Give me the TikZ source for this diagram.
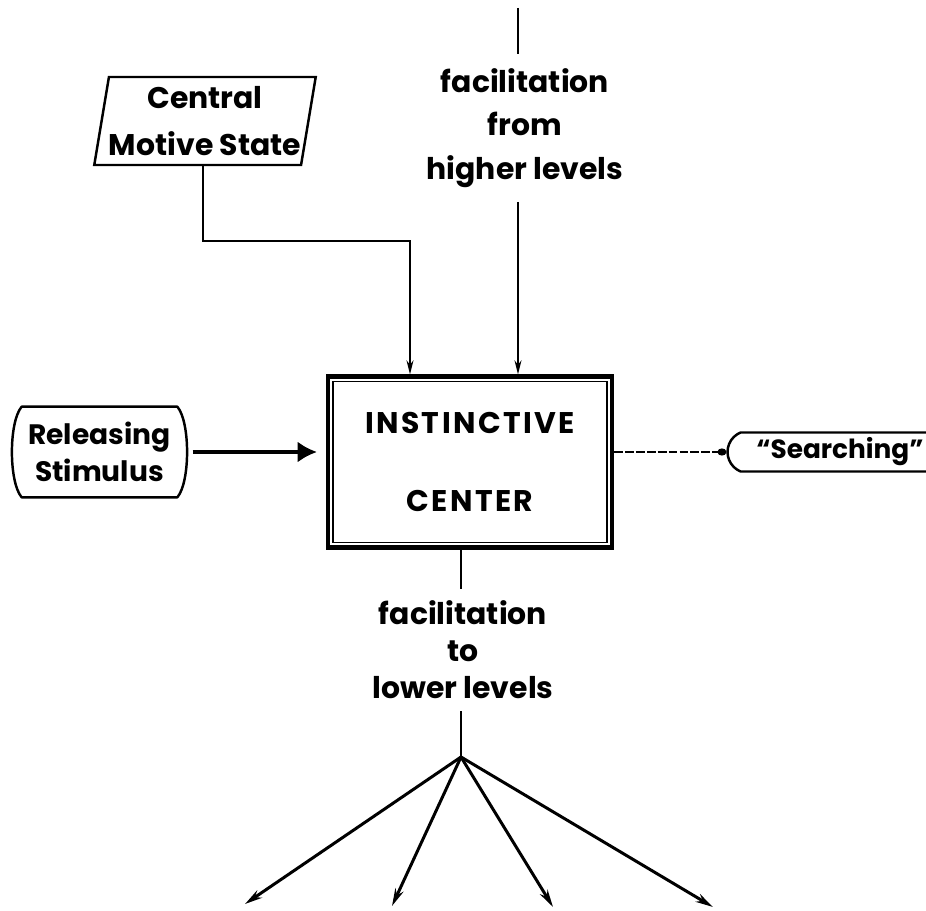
\documentclass[tikz,border=0pt]{standalone}
\usepackage{fontspec}
\setmainfont{Poppins}
\usetikzlibrary{arrows.meta,shapes.geometric,shapes.misc}

\begin{document}
\begin{tikzpicture}[x=0.02cm, y=-0.02cm,
    every node/.style={font=\fontsize{17}{22}\selectfont\bfseries, align=center, inner sep=0pt},
    thinline/.style={line width=0.9pt},
    boxline/.style={line width=1.4pt},
    forkline/.style={line width=1.7pt, -{Stealth[length=10pt, width=5pt]}},
    inhead/.style={-{Stealth[length=8pt, width=4pt]}}]
    \useasboundingbox (0,0) rectangle (926,911);
    \clip (0,0) rectangle (926,911);
    \node [draw, boxline, trapezium, trapezium left angle=78, trapezium right angle=102, trapezium stretches=true, minimum width=4.4cm, minimum height=1.76cm] (cms) at (205,121) {Central\\[4.6pt]Motive State};
    \node [minimum width=3.5cm, minimum height=1.8cm, font=\fontsize{16}{21}\selectfont\bfseries] (rel) at (99.5,452) {Releasing\\[0pt]Stimulus};
    \draw [boxline, line join=round] ([shift={(10,0)}]rel.north west) -- ([shift={(-10,0)}]rel.north east)
        .. controls ([shift={(3,-30)}]rel.east) and ([shift={(3,30)}]rel.east) .. ([shift={(-10,0)}]rel.south east)
        -- ([shift={(10,0)}]rel.south west)
        .. controls ([shift={(-3,30)}]rel.west) and ([shift={(-3,-30)}]rel.west) .. cycle;
    \node [draw, line width=2.5pt, minimum width=5.68cm, minimum height=3.42cm] (ctr) at (470,462) {\addfontfeature{LetterSpace=8}INSTINCTIVE\\[22pt]\addfontfeature{LetterSpace=8}CENTER};
    \draw [thinline] ([shift={(7,7)}]ctr.north west) rectangle ([shift={(-7,-7)}]ctr.south east);
    \node [draw, boxline, rounded rectangle, rounded rectangle arc length=135, minimum width=4.5cm, minimum height=0.78cm, font=\fontsize{15}{18}\selectfont\bfseries] (srch) at (840,452) {``Searching''};
    \node (up) at (525,128) {facilitation\\[2.7pt]from\\[2.7pt]higher levels};
    \node (down) at (463,650) {facilitation\\[-1pt]to\\[-1pt]lower levels};
    \coordinate (top) at (518,8);
    \coordinate (fork) at (461,757);
    \coordinate (l1) at (245,904);
    \coordinate (l2) at (392,906);
    \coordinate (l3) at (553,907);
    \coordinate (l4) at (713,907);
    \draw [thinline] (top) -- ([shift={(0,-14)}]top |- up.north);
    \draw [thinline, inhead] ([shift={(0,14)}]top |- up.south) -- (top |- ctr.north);
    \draw [thinline, inhead] ([shift={(-2,0)}]cms.south) -- ++(0,75) -| ([shift={(-60,0)}]ctr.north);
    \draw [line width=2.3pt, -{Latex[length=11pt, width=12pt]}, shorten <=3pt, shorten >=5pt] (rel.east) -- (rel.east -| ctr.west);
    \draw [line width=1.7pt, dash pattern=on 5pt off 1.2pt, -{Circle[length=5pt, width=4pt]}] (ctr.east |- srch.west) -- (srch.west);
    \draw [thinline] (fork |- ctr.south) -- ([shift={(0,-12)}]fork |- down.north);
    \draw [thinline] ([shift={(0,12)}]fork |- down.south) -- (fork);
    \foreach \leaf in {l1,l2,l3,l4}
        \draw [forkline] (fork) -- (\leaf);
\end{tikzpicture}
\end{document}
